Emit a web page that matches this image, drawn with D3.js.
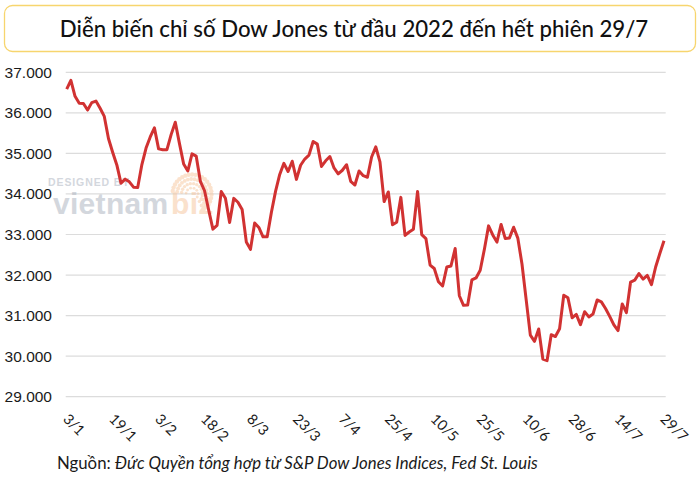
<!DOCTYPE html>
<html>
<head>
<meta charset="utf-8">
<script src="https://cdn.jsdelivr.net/npm/d3@7"></script>
<style>
  html, body { margin: 0; padding: 0; background: #fff; }
  svg { display: block; }
</style>
</head>
<body>
<svg id="chart" width="700" height="482"></svg>
<script>
// ---- Data ----
const dates = [
  "3/1","4/1","5/1","6/1","7/1","10/1","11/1","12/1","13/1","14/1","18/1","19/1","20/1","21/1","24/1","25/1","26/1","27/1","28/1","31/1",
  "1/2","2/2","3/2","4/2","7/2","8/2","9/2","10/2","11/2","14/2","15/2","16/2","17/2","18/2","22/2","23/2","24/2","25/2","28/2",
  "1/3","2/3","3/3","4/3","7/3","8/3","9/3","10/3","11/3","14/3","15/3","16/3","17/3","18/3","21/3","22/3","23/3","24/3","25/3","28/3","29/3","30/3","31/3",
  "1/4","4/4","5/4","6/4","7/4","8/4","11/4","12/4","13/4","14/4","18/4","19/4","20/4","21/4","22/4","25/4","26/4","27/4","28/4","29/4",
  "2/5","3/5","4/5","5/5","6/5","9/5","10/5","11/5","12/5","13/5","16/5","17/5","18/5","19/5","20/5","23/5","24/5","25/5","26/5","27/5","31/5",
  "1/6","2/6","3/6","6/6","7/6","8/6","9/6","10/6","13/6","14/6","15/6","16/6","17/6","21/6","22/6","23/6","24/6","27/6","28/6","29/6","30/6",
  "1/7","5/7","6/7","7/7","8/7","11/7","12/7","13/7","14/7","15/7","18/7","19/7","20/7","21/7","22/7","25/7","26/7","27/7","28/7","29/7"
];
const dowValues = [
  36585,36800,36407,36236,36232,36069,36252,36290,36114,35912,35368,35029,34715,34265,34365,34298,34168,34161,34725,35132,
  35405,35629,35111,35090,35091,35463,35768,35242,34738,34566,34989,34934,34312,34079,33597,33132,33224,34059,33893,
  33295,33891,33795,33615,32817,32633,33286,33174,32944,32945,33544,34063,34481,34755,34553,34807,34359,34708,34861,34956,35294,35229,34678,
  34818,34922,34641,34497,34584,34721,34308,34220,34565,34451,34412,34911,35161,34793,33811,34049,33240,33302,33916,32977,
  33062,33129,34061,32998,32899,32246,32161,31834,31730,32197,32223,32655,31490,31253,31262,31880,31929,32120,32637,33213,32990,
  32813,33248,32900,32916,33180,32911,32273,31393,30517,30365,30669,29927,29889,30530,30483,30677,31501,31438,30947,31029,30775,
  31097,30968,31038,31385,31338,31174,30981,30773,30630,31288,31073,31827,31875,32037,31899,31990,31762,32198,32530,32845
];
const xTickLabels = ["3/1","19/1","3/2","18/2","8/3","23/3","7/4","25/4","10/5","25/5","10/6","28/6","14/7","29/7"];
const yTicks = [29000,30000,31000,32000,33000,34000,35000,36000,37000];
const titleText = "Diễn biến chỉ số Dow Jones từ đầu 2022 đến hết phiên 29/7";
const sourceLabel = "Nguồn: ";
const sourceText = "Đức Quyền tổng hợp từ S&P Dow Jones Indices, Fed St. Louis";

// ---- Layout ----
const svg = d3.select("#chart");
const plotLeft = 66.7, plotRight = 664;
const gridLeft = 65.7, gridRight = 665.7;

const x = d3.scalePoint().domain(dates).range([plotLeft, plotRight]);
const y = d3.scaleLinear().domain([29000, 37000]).range([396.7, 72.3]);

// Title box
svg.append("rect")
  .attr("x", 4.5).attr("y", 5.5).attr("width", 691).attr("height", 46)
  .attr("rx", 8).attr("ry", 8)
  .attr("fill", "#fff").attr("stroke", "#f7d56e").attr("stroke-width", 1.3);
svg.append("text")
  .attr("x", 354).attr("y", 37)
  .attr("text-anchor", "middle")
  .attr("font-family", "Lato, sans-serif")
  .attr("font-size", 22.2)
  .attr("font-weight", 500)
  .attr("fill", "#111")
  .text(titleText);

// Y axis labels
const yAxis = d3.axisLeft(y).tickValues(yTicks)
  .tickFormat(d => d3.format(",")(d).replace(/,/g, "."))
  .tickSize(0).tickPadding(0);
const gy = svg.append("g").attr("transform", `translate(52,0)`).call(yAxis);
gy.select(".domain").remove();
gy.selectAll("text")
  .attr("font-family", "'Liberation Sans', Arial, sans-serif")
  .attr("font-size", 15.5)
  .attr("fill", "#1a1a1a");

// Grid lines
svg.append("g").selectAll("line").data(yTicks).join("line")
  .attr("x1", gridLeft).attr("x2", gridRight)
  .attr("y1", d => y(d)).attr("y2", d => y(d))
  .attr("stroke", "#dcdcdc").attr("stroke-width", 1.2);

// Watermark
const wm = svg.append("g").attr("opacity", 0.5);
wm.append("text").attr("x", 48).attr("y", 186)
  .attr("font-family", "'Liberation Sans', Arial, sans-serif")
  .attr("font-size", 10.5).attr("font-weight", 700).attr("letter-spacing", 0.9)
  .attr("fill", "#a9b0bd").text("DESIGNED BY");
wm.append("text").attr("x", 53).attr("y", 214)
  .attr("font-family", "'Liberation Sans', Arial, sans-serif")
  .attr("font-size", 30).attr("font-weight", 700).attr("letter-spacing", 0.3)
  .attr("fill", "#a9b0bd").text("vietnam");
wm.append("text").attr("x", 171).attr("y", 214)
  .attr("font-family", "'Liberation Sans', Arial, sans-serif")
  .attr("font-size", 30).attr("font-weight", 700).attr("letter-spacing", 0.3)
  .attr("fill", "#f6c49a").text("biz");
// dotted circle of the logo
const dots = [];
for (let r = 6; r <= 20; r += 4.5) {
  const n = Math.round(r * 1.2);
  for (let i = 0; i < n; i++) {
    const a = -Math.PI * 0.95 + (Math.PI * 1.3) * i / n;
    dots.push({cx: 192 + r * Math.cos(a), cy: 194 + r * Math.sin(a), r: 1.1 + r / 18});
  }
}
wm.append("g").selectAll("circle").data(dots).join("circle")
  .attr("cx", d => d.cx).attr("cy", d => d.cy).attr("r", d => d.r)
  .attr("fill", "#f8c79c");

// Line
const line = d3.line().x((d, i) => x(dates[i])).y(d => y(d));
svg.append("path").datum(dowValues)
  .attr("d", line)
  .attr("fill", "none")
  .attr("stroke", "#d13232")
  .attr("stroke-width", 3)
  .attr("stroke-linejoin", "round");

// X axis labels
const xAxis = d3.axisBottom(x).tickValues(xTickLabels).tickSize(0).tickPadding(0);
const gx = svg.append("g").attr("transform", `translate(0,412)`).call(xAxis);
gx.select(".domain").remove();
gx.selectAll("text")
  .attr("font-family", "Lato, sans-serif")
  .attr("font-size", 14.5)
  .attr("fill", "#1a1a1a")
  .attr("text-anchor", "start")
  .attr("dy", null).attr("y", 0)
  .attr("transform", "translate(3,0) rotate(45)")
  .attr("dominant-baseline", "hanging");

// Source
const src = svg.append("text").attr("x", 57).attr("y", 469)
  .attr("font-family", "Lato, sans-serif").attr("font-size", 16.8).attr("fill", "#1a1a1a");
src.append("tspan").text(sourceLabel);
src.append("tspan").attr("font-style", "italic").text(sourceText);
</script>
</body>
</html>
